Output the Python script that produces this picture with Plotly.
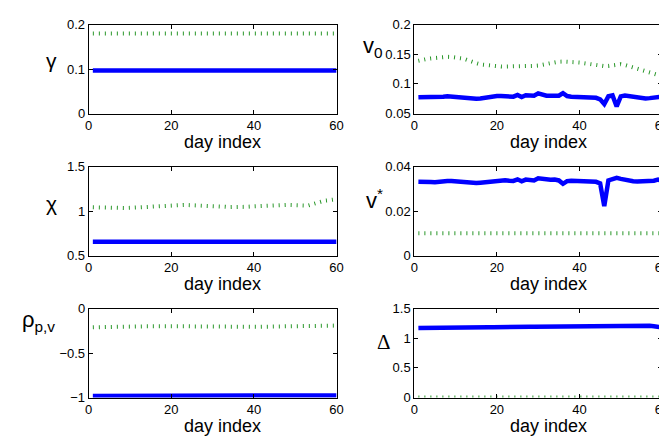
import plotly.graph_objects as go

days = list(range(1, 61))

gamma_est = [0.097] * 60
gamma_true = [0.18] * 60

v0_est = [0.0775, 0.0775, 0.0772, 0.077, 0.0775, 0.078, 0.0785, 0.079, 0.0785, 0.078,
          0.077, 0.076, 0.075, 0.0745, 0.075, 0.0755, 0.0765, 0.079, 0.0795, 0.0795,
          0.0795, 0.0795, 0.079, 0.0785, 0.0815, 0.078, 0.081, 0.0805, 0.080, 0.084,
          0.0815, 0.080, 0.080, 0.0805, 0.080, 0.0845, 0.0795, 0.0785, 0.078, 0.0775,
          0.0775, 0.077, 0.077, 0.0765, 0.074, 0.066, 0.079, 0.0805, 0.062, 0.079,
          0.0805, 0.0795, 0.078, 0.077, 0.076, 0.0755, 0.076, 0.077, 0.079, 0.0785]
v0_true = [0.139, 0.141, 0.142, 0.143, 0.144, 0.145, 0.1455, 0.1457, 0.1455, 0.145,
           0.144, 0.1425, 0.140, 0.137, 0.135, 0.133, 0.132, 0.131, 0.130, 0.1295,
           0.1293, 0.1293, 0.1293, 0.1293, 0.1293, 0.1295, 0.130, 0.1303, 0.1305, 0.131,
           0.1325, 0.134, 0.1355, 0.137, 0.1375, 0.1377, 0.1377, 0.137, 0.1365, 0.136,
           0.135, 0.1335, 0.132, 0.131, 0.1305, 0.130, 0.1303, 0.1315, 0.133, 0.1332,
           0.132, 0.130, 0.128, 0.125, 0.123, 0.121, 0.119, 0.117, 0.115, 0.113]

chi_est = [0.655] * 60
chi_true = [1.043, 1.041, 1.039, 1.037, 1.035, 1.034, 1.033, 1.034, 1.035, 1.037,
            1.040, 1.043, 1.047, 1.051, 1.055, 1.058, 1.061, 1.063, 1.065, 1.067,
            1.068, 1.069, 1.069, 1.068, 1.067, 1.066, 1.065, 1.065, 1.064, 1.062,
            1.059, 1.055, 1.050, 1.045, 1.043, 1.044, 1.046, 1.048, 1.051, 1.054,
            1.057, 1.060, 1.062, 1.065, 1.068, 1.069, 1.069, 1.069, 1.068, 1.066,
            1.063, 1.060, 1.062, 1.075, 1.090, 1.105, 1.116, 1.121, 1.128, 1.134]

vstar_est = [0.0332, 0.0333, 0.0333, 0.0331, 0.0330, 0.0333, 0.0335, 0.0336, 0.0335, 0.0333,
             0.0331, 0.0328, 0.0326, 0.0324, 0.0326, 0.0328, 0.0330, 0.0336, 0.0338, 0.0339,
             0.0338, 0.0339, 0.0337, 0.0336, 0.0343, 0.0334, 0.0342, 0.0340, 0.0338, 0.0348,
             0.0344, 0.0342, 0.0341, 0.0342, 0.0338, 0.0323, 0.0335, 0.0337, 0.0336, 0.0334,
             0.0333, 0.0333, 0.0332, 0.0332, 0.0325, 0.0222, 0.0338, 0.0345, 0.0350, 0.0345,
             0.0340, 0.0336, 0.0334, 0.0333, 0.0333, 0.0332, 0.0334, 0.0337, 0.0342, 0.0336]
vstar_true = [0.01] * 60

rho_est = [-0.982, -0.982, -0.983, -0.983, -0.982, -0.982, -0.981, -0.981, -0.981, -0.980,
           -0.980, -0.980, -0.979, -0.979, -0.979, -0.978, -0.978, -0.978, -0.978, -0.977,
           -0.977, -0.978, -0.978, -0.978, -0.977, -0.977, -0.976, -0.976, -0.976, -0.975,
           -0.975, -0.975, -0.976, -0.976, -0.977, -0.977, -0.978, -0.978, -0.978, -0.978,
           -0.978, -0.978, -0.977, -0.977, -0.976, -0.975, -0.973, -0.972, -0.975, -0.977,
           -0.976, -0.976, -0.977, -0.977, -0.977, -0.976, -0.976, -0.976, -0.976, -0.976]
rho_true = [-0.210, -0.210, -0.209, -0.209, -0.208, -0.207, -0.206, -0.205, -0.204, -0.203,
            -0.202, -0.200, -0.199, -0.198, -0.197, -0.196, -0.195, -0.195, -0.195, -0.195,
            -0.195, -0.196, -0.197, -0.198, -0.199, -0.200, -0.201, -0.202, -0.203, -0.204,
            -0.204, -0.205, -0.205, -0.205, -0.205, -0.205, -0.205, -0.205, -0.205, -0.204,
            -0.204, -0.203, -0.202, -0.201, -0.200, -0.199, -0.198, -0.197, -0.196, -0.195,
            -0.195, -0.194, -0.194, -0.193, -0.193, -0.192, -0.192, -0.191, -0.191, -0.190]

delta_est = [1.172, 1.174, 1.176, 1.178, 1.180, 1.182, 1.184, 1.186, 1.188, 1.190,
             1.191, 1.192, 1.192, 1.191, 1.190, 1.190, 1.189, 1.188, 1.187, 1.186,
             1.186, 1.187, 1.188, 1.189, 1.190, 1.191, 1.193, 1.195, 1.196, 1.197,
             1.198, 1.200, 1.202, 1.204, 1.205, 1.206, 1.207, 1.207, 1.208, 1.209,
             1.210, 1.211, 1.212, 1.213, 1.214, 1.212, 1.210, 1.208, 1.212, 1.206,
             1.205, 1.215, 1.222, 1.220, 1.214, 1.212, 1.210, 1.205, 1.190, 1.185]
delta_true = [0.0] * 60

x_ticks = [0, 20, 40, 60]

panels = [
    (gamma_est, gamma_true, [0, 0.2], [0, 0.1, 0.2], "γ", "Liberation Sans", 21),
    (v0_est, v0_true, [0.05, 0.2], [0.05, 0.1, 0.15, 0.2], "v<sub>0</sub>", "Liberation Sans", 22),
    (chi_est, chi_true, [0.5, 1.5], [0.5, 1, 1.5], "χ", "Liberation Sans", 21),
    (vstar_est, vstar_true, [0, 0.04], [0, 0.02, 0.04], "v<sup>*</sup>", "Liberation Sans", 22),
    (rho_est, rho_true, [-1, 0], [-1, -0.5, 0], "ρ<sub>p,v</sub>", "Liberation Sans", 22),
    (delta_est, delta_true, [0, 1.5], [0, 0.5, 1, 1.5], "Δ", "Liberation Serif", 21),
]

W, H = 667, 442
col_px = [(78, 330), (409, 661)]
row_px = [(10, 102), (157, 249), (304, 396)]
ylab_px = [(40, 47), (367, 33), (40, 195), (369, 190), (27, 317), (378, 339)]
xlab_cx = [214, 546]

fig = go.Figure()
layout = dict(
    width=W, height=H,
    margin=dict(l=0, r=0, t=0, b=0),
    plot_bgcolor="white", paper_bgcolor="white",
    showlegend=False,
    font=dict(family="Liberation Sans", size=13, color="black"),
    annotations=[],
)

for i, (est, true, yr, yt, lab, lab_font, lab_size) in enumerate(panels):
    r, c = divmod(i, 2)
    n = i + 1
    xa = "x" if n == 1 else f"x{n}"
    ya = "y" if n == 1 else f"y{n}"
    fig.add_trace(go.Scatter(x=days, y=true, mode="lines", xaxis=xa, yaxis=ya,
                             line=dict(color="rgb(40,150,40)", width=4, dash="1px,5px")))
    fig.add_trace(go.Scatter(x=days, y=est, mode="lines", xaxis=xa, yaxis=ya,
                             line=dict(color="rgb(0,0,255)", width=4.5)))
    x0, x1 = col_px[c]
    y0, y1 = row_px[r]
    axcommon = dict(showline=True, linecolor="black", linewidth=1, mirror="ticks",
                    ticks="inside", ticklen=4, tickcolor="black", showgrid=False,
                    zeroline=False, tickfont=dict(size=13, color="black"))
    layout["xaxis" if n == 1 else f"xaxis{n}"] = dict(
        domain=[x0 / W, x1 / W], range=[0, 60], tickvals=x_ticks,
        anchor=ya, **axcommon)
    layout["yaxis" if n == 1 else f"yaxis{n}"] = dict(
        domain=[1 - y1 / H, 1 - y0 / H], range=yr, tickvals=yt,
        anchor=xa, **axcommon)
    lx, ly = ylab_px[i]
    layout["annotations"].append(dict(
        x=lx / W, y=1 - ly / H, xref="paper", yref="paper", text=lab,
        showarrow=False, xanchor="center", yanchor="middle",
        font=dict(family=lab_font, size=lab_size, color="black")))
    layout["annotations"].append(dict(
        x=xlab_cx[c] / W, y=1 - (y1 + 29) / H, xref="paper", yref="paper",
        text="day index", showarrow=False, xanchor="center", yanchor="middle",
        font=dict(family="Liberation Sans", size=18, color="black")))

fig.update_layout(**layout)
fig.write_html("out.html")
